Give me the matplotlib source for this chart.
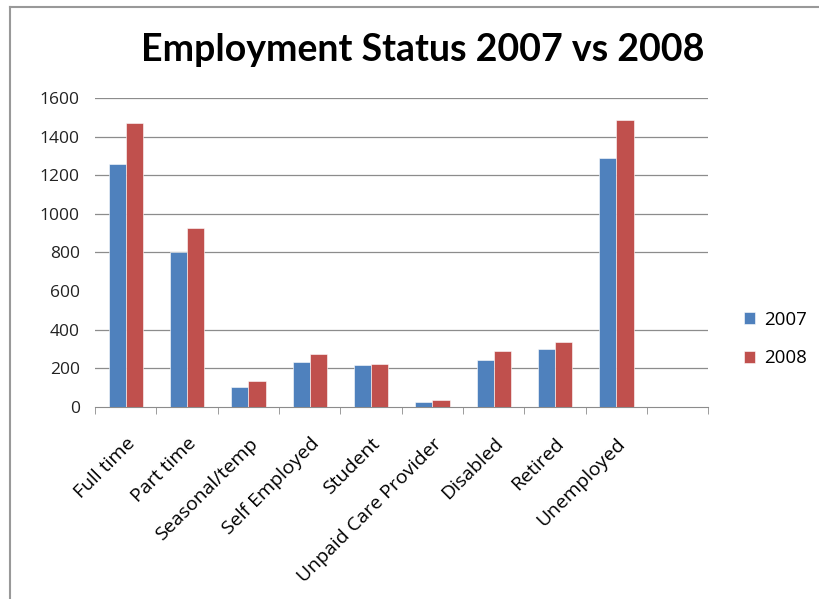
import numpy as np
import matplotlib
matplotlib.use("Agg")
import matplotlib.pyplot as plt
from matplotlib.lines import Line2D

categories = ["Full time", "Part time", "Seasonal/temp", "Self Employed", "Student",
              "Unpaid Care Provider", "Disabled", "Retired", "Unemployed", ""]
values_2007 = [1260, 800, 100, 233, 216, 24, 241, 299, 1289, 0]
values_2008 = [1470, 927, 135, 275, 223, 36, 287, 334, 1486, 0]
series_names = ["2007", "2008"]

blue = "#4f81bd"
red = "#c0504d"

plt.rcParams["font.family"] = ["Open Sans", "DejaVu Sans"]

fig = plt.figure(figsize=(8.2, 5.99), dpi=100)
ax = fig.add_axes([0.116, 0.321, 0.748, 0.515])

x = np.arange(len(categories))
w = 0.28
ax.bar(x - w / 2, values_2007, w, color=blue, edgecolor="white", linewidth=0.4, label=series_names[0], zorder=3)
ax.bar(x + w / 2, values_2008, w, color=red, edgecolor="white", linewidth=0.4, label=series_names[1], zorder=3)

ax.set_xlim(-0.5, len(categories) - 0.5)
ax.set_ylim(0, 1600)
ax.set_yticks(range(0, 1601, 200))
for v in range(200, 1601, 200):
    if v != 600:
        ax.axhline(v, color="#8c8c8c", linewidth=0.9, zorder=1)

for s in ["top", "right", "left"]:
    ax.spines[s].set_visible(False)
ax.spines["bottom"].set_color("#8c8c8c")
ax.tick_params(axis="y", length=0, labelsize=12.5, pad=11, colors="#222222")

ax.set_xticks(x)
ax.set_xticklabels(categories, rotation=45, ha="right", rotation_mode="anchor", fontsize=14)
ax.tick_params(axis="x", length=0, pad=20)
ax.set_xticks(np.arange(len(categories) + 1) - 0.5, minor=True)
ax.tick_params(axis="x", which="minor", length=5, color="#8c8c8c", direction="out")

fig.suptitle("Employment Status 2007 vs 2008", x=0.515, y=0.945, fontsize=27,
             fontweight="bold", family=["Lato", "DejaVu Sans"])

ax.legend(loc="center left", bbox_to_anchor=(1.03, 0.22), frameon=False, fontsize=13.5,
          handlelength=0.6, handleheight=0.6, handletextpad=0.5, labelspacing=1.1)

# chart frame
fig.add_artist(Line2D([0.012, 0.012], [0, 0.988], color="#999999", linewidth=1.5))
fig.add_artist(Line2D([0.012, 1.0], [0.988, 0.988], color="#999999", linewidth=1.5))

fig.savefig("out.png", dpi=100)
